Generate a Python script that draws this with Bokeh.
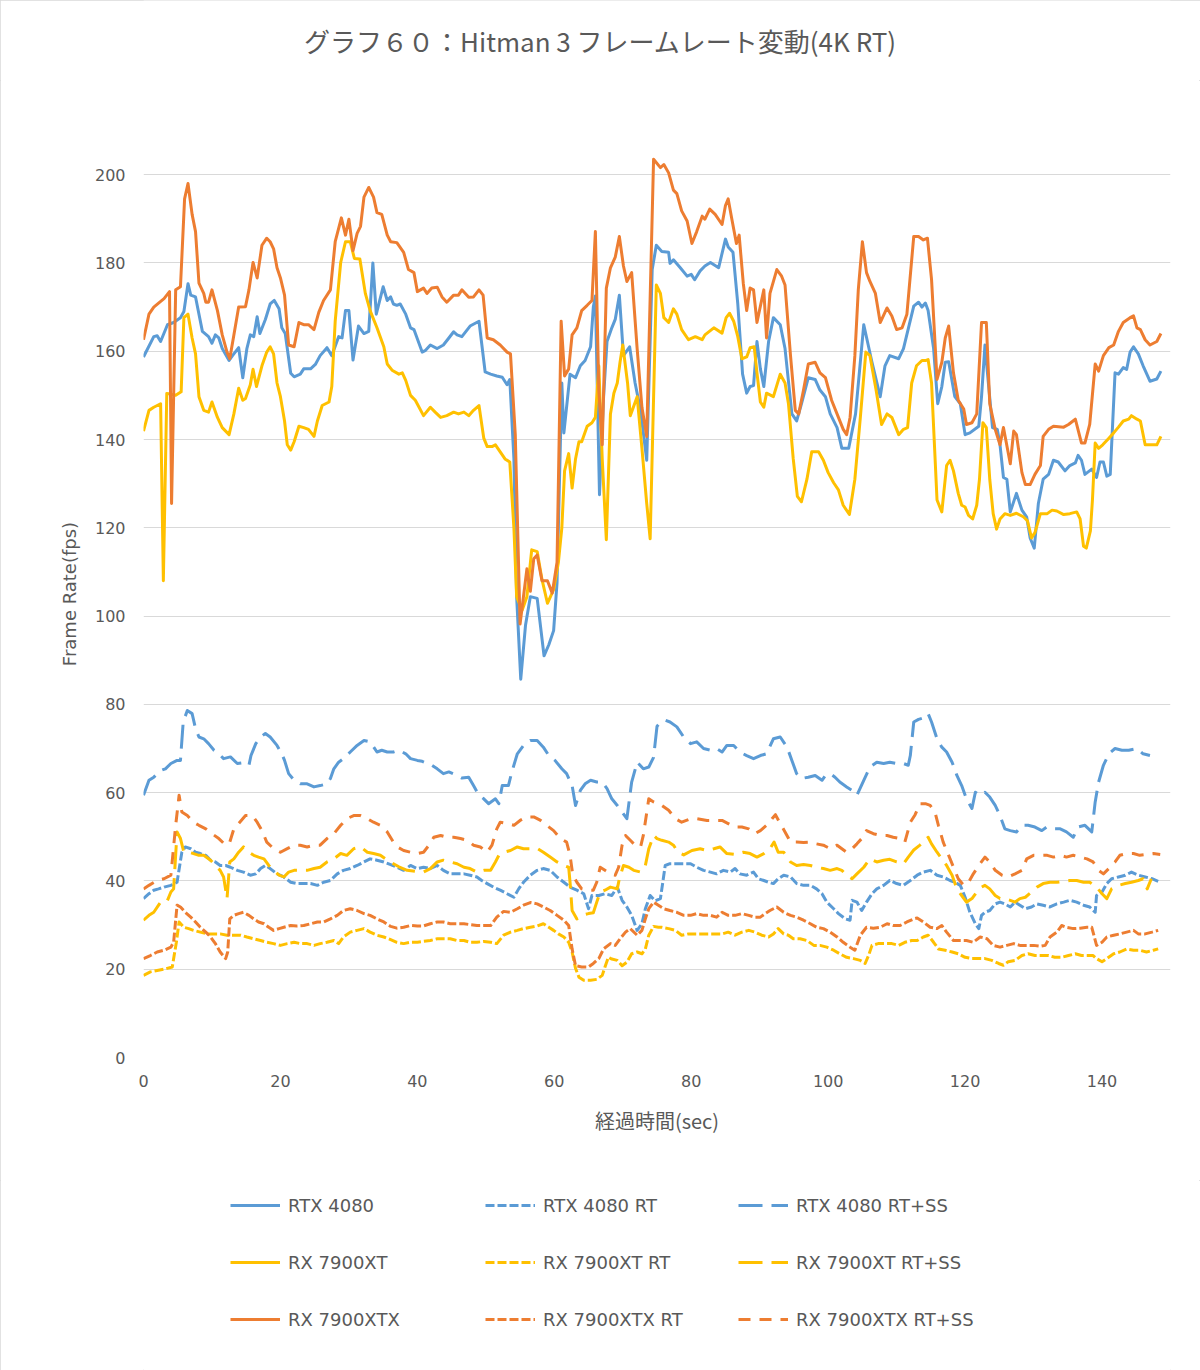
from bokeh.plotting import figure
from bokeh.layouts import column
from bokeh.models import ColumnDataSource, Legend, LegendItem, FixedTicker, Range1d, Label
from bokeh.embed import file_html
from bokeh.resources import INLINE

# ---------------- data (time in sec, frame rate in fps) ----------------
rtx4080 = [(0, 158.7), (1.5, 163.3), (2, 163.5), (2.5, 162.2), (3.5, 166), (4.4, 166.5), (5.4, 167.6), (5.9, 169), (6.5, 175.3), (6.9, 172.7),
           (7.6, 172.3), (8.6, 164.5), (9.5, 163.3), (10, 161.8), (10.5, 163.7), (11, 163), (11.5, 160.6), (12.5, 157.9), (13, 159), (13.9, 160.8),
           (14.5, 154), (15.1, 160.6), (15.6, 163.7), (16.1, 163.3), (16.6, 167.8), (17, 164), (17.8, 167.2), (18.5, 170.7), (19.1, 171.5), (19.8, 169.6),
           (20.2, 165.3), (20.7, 164), (21.5, 155), (22, 154.2), (22.9, 154.8), (23.4, 156), (24.4, 156), (25.1, 157), (25.8, 159), (26.8, 160.8),
           (27.5, 159), (28.5, 163.3), (29, 163), (29.5, 169.2), (30, 169.2), (30.6, 158), (31.4, 165.7), (32.2, 164), (32.9, 164.5), (33.5, 180),
           (34, 168.4), (35, 174.6), (35.6, 171.5), (36.1, 172.3), (36.5, 170.7), (37, 170.4), (37.5, 170.7), (38.3, 168.4), (39, 165.3), (39.5, 164.9),
           (40.7, 159.8), (41.2, 160.2), (41.9, 161.4), (42.9, 160.6), (43.8, 161.4), (44.6, 163), (45.3, 164.4), (45.8, 163.7), (46.5, 163.3), (47.7, 165.7),
           (49, 166.8), (49.9, 155.3), (50.7, 154.8), (51.6, 154.4), (52.4, 154.1), (53.1, 152.4), (53.5, 153.6), (54.1, 135.6), (54.5, 104.4), (55.1, 85.7),
           (55.8, 98), (56.5, 104.4), (57.5, 104), (58.5, 91), (59.2, 93.5), (59.9, 96.7), (60.4, 107.6), (61.1, 152.8), (61.4, 141.5), (62.3, 154.8),
           (63.1, 154), (63.8, 156.7), (64.5, 157.9), (65.3, 161), (65.7, 170), (66, 172.5), (66.6, 127.5), (67.2, 149.7), (67.7, 162.2), (68.4, 165.3),
           (68.9, 167.2), (69.5, 172.7), (70.1, 159), (71, 161), (71.8, 152.8), (72.6, 146.6), (73.5, 135.3), (74.3, 178.5), (74.9, 184), (75.7, 182.6),
           (76.7, 182.4), (76.9, 179.9), (77.4, 180.7), (78.4, 178.9), (79.4, 177), (80, 177.4), (80.5, 176.2), (81.3, 178.2), (82, 179.3), (82.8, 180.1),
           (84, 178.9), (85, 185.4), (85.4, 183.6), (86.1, 182.4), (86.8, 170.7), (87.5, 154.8), (88.1, 150.5), (88.6, 152), (89.1, 152.2), (89.6, 162.2),
           (90.1, 156), (90.6, 152), (91.3, 162.2), (92, 167.6), (93, 166), (93.7, 160.6), (94.7, 145.8), (95.4, 144.2), (96.1, 148.1), (97.1, 154),
           (98.1, 153.6), (98.8, 151.2), (99.6, 149.7), (100.3, 145.8), (101.3, 142.7), (102, 138), (103, 138), (104, 145.8), (105.2, 166), (106.4, 157.5),
           (107.6, 149.7), (108.3, 156.7), (109, 159), (110.3, 158.3), (111, 160.6), (112.5, 170.2), (113.2, 171.1), (113.7, 170), (114.2, 170.9), (114.6, 169.2),
           (115.4, 160.6), (116, 148.1), (116.6, 152), (117.1, 157.5), (117.6, 157.6), (118.5, 149.7), (119.3, 148.1), (120, 141.1), (120.7, 141.5), (122, 143),
           (122.4, 149.7), (122.9, 161.4), (123.4, 152.8), (124, 142.7), (124.7, 142.3), (125.1, 138.8), (125.6, 131.4), (126.1, 131), (126.6, 123.6), (127.5, 127.8),
           (128.3, 124), (129, 122.4), (129.5, 117.7), (130.1, 115.4), (130.7, 125.5), (131.4, 131), (132.2, 132.1), (132.9, 135.3), (133.6, 134.9), (134.6, 132.9),
           (135.3, 134.1), (136.1, 134.7), (136.5, 136.4), (137, 135.3), (137.5, 132.1), (138.5, 133.3), (139.2, 131.4), (139.7, 134.9), (140.2, 134.9), (140.7, 131.7),
           (141.2, 132.1), (141.9, 155.1), (142.4, 154.8), (143.1, 156.3), (143.6, 155.9), (144.1, 159.8), (144.6, 161), (145.3, 159.4), (146, 156.7), (147, 153.2),
           (148, 153.7), (148.6, 155.5)]

rx7900xtx = [(0, 162.6), (0.8, 168.4), (1.5, 170), (2.2, 170.9), (3, 171.9), (3.8, 173.5), (4.1, 125.5), (4.7, 173.9), (5.4, 174.6), (6, 194.5),
             (6.5, 198), (7.1, 191), (7.6, 187.1), (8.1, 175.4), (8.8, 173.1), (9.1, 171.1), (9.5, 171.1), (10, 173.9), (10.8, 169.2), (11.5, 163.7),
             (12.2, 159.8), (12.6, 158.3), (13.2, 163.7), (13.9, 170), (14.9, 170.1), (15.4, 173.9), (16, 180.1), (16.6, 176.6), (17.3, 184), (18, 185.6),
             (18.5, 184.8), (19, 183.2), (19.5, 178.9), (20, 176.6), (20.6, 172.7), (21.2, 161.4), (22, 161), (22.7, 166.5), (23.4, 166), (24.1, 166),
             (24.9, 164.9), (25.6, 168.8), (26.3, 171.5), (27.3, 173.9), (28, 184.8), (28.9, 190.2), (29.5, 186.3), (30, 189.9), (30.6, 182.8), (31.2, 186.7),
             (31.7, 188.3), (32.2, 194.9), (32.9, 197.1), (33.6, 194.9), (34.1, 191.4), (34.8, 191), (35.6, 186.3), (36.1, 184.8), (37, 184.6), (38, 182.4),
             (38.7, 178.5), (39.5, 177.8), (40, 173.5), (40.9, 174.3), (41.4, 173.1), (42.1, 174.3), (42.9, 174.5), (43.6, 172.3), (44.3, 171.1), (45.3, 172.7),
             (46, 172.7), (46.5, 173.9), (47.5, 172.2), (48.2, 172.3), (49, 173.9), (49.6, 172.7), (50.2, 163), (51.1, 162.6), (52.1, 161.4), (53.1, 159.8),
             (53.6, 159.4), (54.3, 141.1), (55, 98.2), (56, 110.7), (56.5, 105.6), (57, 113), (57.5, 113.8), (58.2, 108), (59, 108), (59.7, 105.2),
             (60.4, 112.2), (61, 166.8), (61.5, 154.4), (62.1, 156), (62.6, 163.7), (63.3, 165.3), (64, 169.2), (64.8, 170.4), (65.5, 171.5), (66, 187.1),
             (66.5, 151.2), (67, 138.8), (67.6, 174.3), (68.2, 178.9), (68.9, 181.3), (69.5, 186), (70.1, 179.3), (70.6, 175.8), (71.3, 177.8), (72.1, 160.6),
             (72.8, 147.3), (73.5, 140.7), (74.5, 203.5), (75.5, 201.6), (76, 202.3), (76.7, 200.4), (77.4, 196.5), (77.9, 195.7), (78.6, 191.8), (79.4, 189.5),
             (80.1, 184.4), (80.8, 187.1), (81.6, 190.6), (82, 189.9), (82.7, 192.2), (83.5, 191), (84.5, 188.7), (85, 193), (85.4, 194.5), (85.9, 190.2),
             (86.6, 184.4), (87, 186.3), (87.6, 175.4), (88.1, 169.2), (88.6, 174.3), (89.1, 173.9), (89.6, 166.5), (90.6, 173.9), (91, 163), (91.5, 173.1),
             (92.5, 178.5), (93.2, 177), (93.7, 175), (94.5, 159), (95.2, 146.6), (95.7, 145.8), (96.4, 151.2), (97.1, 157.1), (98.1, 157.5), (98.8, 155.1),
             (99.6, 154), (100.5, 148.9), (101.5, 145), (102.2, 142.3), (102.7, 141.1), (103.2, 145), (103.9, 159), (104.4, 173.9), (105, 184.8), (105.6, 177.8),
             (106.1, 175.8), (106.9, 173.1), (107.6, 166.5), (108.6, 169.8), (109.3, 168), (110, 164.9), (110.8, 165.3), (111.5, 168.4), (112.5, 186), (113.2, 186),
             (113.9, 185.2), (114.5, 185.6), (115.1, 176.2), (115.9, 153.6), (116.6, 157.5), (117.1, 163), (117.6, 165.7), (118.3, 155.1), (119, 148.9), (119.8, 146.9),
             (120.2, 143.4), (121, 143.8), (121.7, 145.8), (122.4, 166.5), (123.1, 166.5), (123.6, 148.1), (124.4, 142.3), (125.1, 138.8), (125.6, 142.7), (126.6, 134.5),
             (127.1, 141.9), (127.5, 141.1), (128.3, 132.5), (128.8, 129.8), (129.5, 129.8), (130.2, 132.1), (131, 134.1), (131.4, 140.7), (132.2, 142.3), (132.9, 143),
             (134.4, 142.8), (135.1, 143.4), (136.1, 144.6), (137, 139.2), (137.5, 139.2), (138.2, 143.4), (139, 157.1), (139.5, 155.5), (140.2, 159), (141, 160.8),
             (141.7, 161.4), (142.4, 164.5), (143.1, 166.5), (144.1, 167.6), (144.6, 168), (145.1, 165.3), (145.6, 164.9), (146.3, 162.6), (147, 161.4), (148, 162.2),
             (148.6, 164)]

rx7900xt = [(0, 141.9), (0.8, 146.6), (1.5, 147.3), (2.5, 148.1), (2.9, 108), (3.4, 150.4), (3.9, 150.3), (4.7, 150), (5.5, 150.8), (5.9, 167.6),
            (6.5, 168.4), (7.1, 163), (7.6, 159.4), (8.1, 149.7), (8.8, 146.6), (9.5, 146.2), (10, 148.5), (10.8, 145), (11.5, 142.7), (12.5, 141.1),
            (13.2, 145.8), (13.9, 151.6), (14.5, 148.9), (14.9, 149.3), (15.6, 152.4), (16, 155.9), (16.5, 152), (17.3, 156.7), (18, 159.8), (18.5, 161),
            (19, 159.4), (19.5, 152.8), (20, 149.7), (20.6, 144.2), (21, 138.8), (21.5, 137.6), (22, 139.5), (22.7, 143), (23.4, 142.7), (24.1, 142.3),
            (24.9, 140.7), (25.4, 144.2), (26.1, 147.7), (27.1, 148.5), (27.5, 152), (28, 166.8), (28.8, 180.1), (29.5, 184.8), (30.2, 184.8), (30.8, 181),
            (31.6, 180.9), (32.4, 173.1), (33.1, 169.2), (34.1, 165.3), (35.1, 161), (35.6, 157.1), (36.3, 155.7), (37.3, 154.8), (37.8, 155.1), (38.3, 153.4),
            (39, 150), (39.7, 148.9), (40.9, 145.4), (41.9, 147.3), (42.6, 146.2), (43.4, 145), (44.3, 145.4), (45.3, 146.2), (46, 145.8), (46.8, 146.2),
            (47.5, 145.4), (48.2, 146.6), (49, 147.7), (49.7, 140.3), (50.2, 138.4), (50.9, 138.4), (51.4, 138.8), (52.1, 137.2), (52.8, 135.6), (53.5, 134.9),
            (54.1, 120), (54.5, 104.4), (55.3, 101.3), (56, 104.4), (56.7, 115), (57.5, 114.6), (58.2, 108.3), (59, 102.9), (59.9, 106), (60.6, 112.2),
            (61.1, 120), (61.5, 132.9), (62.1, 136.8), (62.6, 129), (63.1, 135.6), (63.6, 139.5), (64, 139.5), (64.8, 143), (65.5, 143.8), (66, 145),
            (66.5, 156.7), (67, 135.6), (67.6, 117.3), (68.2, 145.8), (68.7, 150.5), (69.2, 152.8), (69.6, 157.5), (70, 161.4), (70.7, 152.8), (71.1, 145.4),
            (72.1, 149.7), (72.8, 138), (73.5, 125.5), (74, 117.5), (74.9, 175), (75.5, 173.1), (76, 167.6), (76.7, 166.5), (77.4, 169.6), (77.9, 168.4),
            (78.6, 164.9), (79.6, 162.6), (80.6, 163.3), (81.6, 162.6), (82, 163.7), (83.3, 165.3), (84.5, 164.1), (85.1, 167.6), (85.6, 168.6), (86.2, 166.8),
            (86.8, 163.3), (87.4, 158.3), (88.1, 158.7), (88.6, 160.8), (89.2, 161), (89.6, 155.1), (90.1, 148.5), (90.6, 147.3), (91, 150.5), (92, 149.7),
            (93, 154.8), (93.7, 152.8), (94.2, 148.1), (94.9, 135.6), (95.5, 127.1), (96.1, 125.9), (96.9, 131), (97.6, 137.2), (98.6, 137.2), (99.3, 135.3),
            (100, 132.5), (100.8, 130.2), (101.5, 128.6), (102.2, 125.1), (103.1, 123), (103.9, 131), (104.7, 145), (105.5, 159.8), (106.1, 159), (107, 151.2),
            (107.8, 143.4), (108.6, 145.8), (109.3, 145), (110.3, 141.1), (111, 142.3), (111.6, 142.7), (112.2, 152.8), (112.9, 156.7), (113.7, 157.9), (114.3, 157.9),
            (114.6, 158.1), (115.1, 152.8), (115.9, 126.3), (116.6, 123.6), (117.3, 134.1), (117.8, 135.3), (118.3, 132.9), (119, 127.8), (119.5, 125.1), (120, 124.7),
            (120.5, 122.8), (121.1, 122), (121.7, 125.1), (122.1, 131), (122.6, 143.8), (123.1, 142.7), (123.6, 131), (124.1, 123.2), (124.6, 119.7), (125.1, 122),
            (125.8, 123.2), (126.6, 122.8), (127.5, 123.3), (128.5, 122.5), (129.1, 121.6), (129.7, 117.7), (130.2, 118.9), (131, 123.2), (132, 123.2), (132.7, 124),
            (133.4, 123.8), (134.4, 123), (135.3, 123.2), (136.3, 123.6), (136.8, 122), (137.3, 115.8), (137.7, 115.4), (138.3, 119.3), (138.6, 126.3), (139, 139.2),
            (139.5, 138), (140.1, 138.8), (141, 140.3), (141.7, 141.5), (142.4, 142.8), (143.1, 144.2), (143.9, 144.6), (144.3, 145.4), (145.1, 144.6), (145.6, 144.2),
            (146.3, 138.8), (148, 138.8), (148.6, 140.7)]

rtx4080_rt_ss = [(0, 59.4), (0.8, 62.8), (1.5, 63.5), (2.5, 65), (3.2, 65.4), (4, 66.6), (4.9, 67.3), (5.4, 67.3), (5.8, 76), (6.4, 78.6),
                 (7.1, 77.9), (7.6, 74.5), (8.1, 72.6), (8.8, 72.2), (9.5, 71.1), (10.3, 69.6), (11, 68.8), (11.7, 67.7), (12.7, 68.1), (13.7, 66.6),
                 (14.6, 66.8), (15.4, 66.2), (15.7, 68.4), (16.4, 71.1), (17.1, 72.6), (17.8, 73.4), (18.5, 72.6), (19.5, 70.7), (20.2, 68.8), (20.6, 67.3),
                 (21.2, 64.3), (22, 62.8), (22.9, 62), (23.9, 62), (24.9, 61.3), (25.8, 61.6), (26.8, 62), (27.3, 63.2), (27.8, 65.4), (28.5, 66.9),
                 (29.2, 67.7), (30.2, 69.2), (31.2, 70.7), (32.2, 71.8), (33.1, 71.5), (34.1, 69.2), (34.8, 69.6), (35.6, 69.2), (36.5, 69.2), (37.3, 69.6),
                 (38.3, 68.8), (39, 67.7), (40, 67.3), (40.7, 67.1), (42.1, 66.2), (42.9, 65.4), (43.8, 64.3), (44.6, 64.7), (45.8, 63.9), (46.5, 63.3),
                 (47.5, 63.5), (48.2, 61.6), (49, 59.4), (49.7, 58.6), (50.4, 57.5), (51.4, 58.6), (51.9, 57.5), (52.4, 61.6), (53.3, 61.6), (53.8, 64.7),
                 (54.6, 68.8), (55.5, 70.7), (56.5, 71.8), (57.5, 71.8), (58.4, 70.3), (59.2, 68.4), (60.1, 67.3), (61.1, 65.4), (61.8, 64.3), (62.6, 61.6),
                 (63.1, 57.1), (63.8, 60.5), (64.5, 62), (65.3, 62.8), (66.2, 62.4), (67, 62.4), (67.7, 60.9), (68.4, 58.6), (69.2, 57.1), (69.9, 55.6),
                 (70.6, 54.1), (71.3, 62.4), (72.1, 66.9), (73, 65.4), (73.8, 65.8), (74.5, 68), (75, 75), (75.5, 76), (76.2, 76.4), (76.9, 76),
                 (77.9, 74.9), (78.9, 72.6), (79.9, 71.1), (80.8, 71.5), (81.8, 70), (82.8, 69.6), (83.7, 70), (84.5, 69.2), (85.2, 70.7), (86.2, 70.7),
                 (87.1, 69.2), (88.1, 68.4), (89.1, 67.7), (90.1, 68.4), (91, 68.8), (92, 72.2), (93, 72.6), (94, 70.3), (94.7, 67.3), (95.4, 64.3),
                 (96.1, 63.2), (97.1, 63.5), (98.1, 63.9), (99.1, 62.8), (99.6, 63.9), (100.3, 64.3), (101, 63.5), (101.7, 62.4), (102.7, 61.3), (103.5, 60.5),
                 (104.2, 59.4), (105.2, 62.8), (106.1, 65.8), (107.1, 66.9), (108.1, 66.6), (109, 66.9), (110, 66.6), (111, 66.6), (111.7, 66.2), (112, 68.4),
                 (112.5, 76), (113.2, 76.6), (114.2, 77.1), (114.6, 77.9), (115.1, 76), (115.9, 72.2), (116.6, 70.3), (117.3, 69.2), (118.1, 66.9), (118.8, 63.9),
                 (119.5, 61.6), (120.2, 58.6), (121, 56.4), (121.5, 60.1), (122.2, 59.4), (122.9, 60.1), (123.6, 59), (124.4, 57.1), (125.1, 54.8), (125.8, 51.8),
                 (126.6, 51.4), (127.5, 51.1), (128.3, 52.6), (129.2, 52.6), (130.2, 52.2), (131.2, 51.4), (131.9, 52.2), (132.9, 51.8), (133.9, 51.8), (134.8, 51.1),
                 (135.8, 49.9), (136.5, 52.2), (137.5, 52.6), (138.5, 51.1), (139, 57.9), (139.5, 62.4), (140.2, 66.2), (141, 68.8), (141.9, 70), (142.9, 69.6),
                 (143.9, 69.6), (145.1, 70), (146, 68.8), (147, 68.4)]

rx7900xtx_rt_ss = [(0, 38.2), (0.8, 39), (2, 40.1), (3, 40.5), (4, 41.3), (4.7, 52.6), (5.2, 59.4), (5.6, 55.6), (6.4, 54.8), (7.3, 53.3),
                   (8.1, 52.6), (9.1, 51.8), (10, 50.7), (11, 49.6), (12, 48.1), (12.6, 48.8), (13.2, 51.8), (13.9, 53), (14.9, 54.8), (15.9, 54.8),
                   (16.6, 53.3), (17.3, 51.4), (18, 48.8), (19, 47.3), (20, 46.5), (21, 47.3), (22, 48.1), (22.9, 48.1), (23.9, 47.7), (24.9, 48.1),
                   (25.8, 48.1), (26.8, 49.6), (27.8, 50.7), (28.8, 52.6), (29.7, 54.1), (30.7, 54.8), (31.7, 54.8), (32.7, 54.1), (33.6, 53.3), (34.6, 52.6),
                   (35.6, 51.1), (36.5, 48.8), (37.3, 47.5), (38, 46.9), (39, 46.5), (40, 46.2), (40.9, 46.5), (41.7, 48.1), (42.4, 49.9), (43.4, 50.3),
                   (44.3, 49.9), (45.3, 49.9), (46.3, 49.6), (47.3, 49.2), (48.2, 48.1), (49.2, 47.7), (50.2, 46.5), (50.9, 48.1), (51.6, 51.8), (52.1, 53.3),
                   (53.1, 53), (54.1, 52.6), (55, 53.7), (56, 54.5), (57, 54.5), (58, 53.7), (58.9, 52.6), (59.9, 51.4), (60.9, 49.6), (61.8, 48.8),
                   (62.3, 45.8), (62.7, 41.3), (63.3, 39.7), (64, 38.2), (65, 37.9), (65.7, 37.9), (66.2, 39.7), (66.7, 43.1), (67.4, 42.4), (68.2, 41.6),
                   (68.9, 41.3), (69.4, 43.1), (69.9, 48.1), (70.4, 50.3), (71.1, 49.2), (71.8, 48.1), (72.6, 47.7), (73, 50.3), (73.8, 58.6), (74.5, 57.9),
                   (75.2, 57.5), (75.7, 57.1), (76.7, 56), (77.7, 54.1), (78.6, 53.3), (79.6, 53.9), (80.8, 54.1), (82.3, 53.7), (83.5, 53.7), (84.5, 53.7),
                   (85.4, 53), (86.4, 52.2), (87.4, 52.2), (88.4, 51.8), (89.3, 50.7), (90.1, 51.4), (91, 52.6), (91.8, 54.1), (92.3, 55), (93, 53),
                   (93.7, 51.1), (94.5, 48.8), (95.4, 48.8), (96.4, 48.7), (97.4, 48.8), (98.3, 48.4), (99.3, 48.1), (100.3, 47.3), (101.3, 48.1), (102, 47.3),
                   (102.7, 46.5), (103.5, 47.3), (104.2, 48.4), (104.9, 49.6), (105.6, 51.4), (106.6, 50.7), (107.6, 50.3), (108.6, 50.3), (109.5, 49.9), (110.5, 49.6),
                   (111.2, 48.8), (112, 53.3), (112.7, 55), (113.4, 57.5), (114.2, 57.5), (114.9, 57.1), (115.6, 55.6), (116.1, 52.6), (116.8, 48.8), (117.6, 45.8),
                   (118.3, 43.1), (119, 40.5), (119.8, 39), (120.5, 39.7), (121.2, 41.6), (122, 43.5), (122.9, 45.4), (123.6, 44.3), (124.4, 42.4), (125.4, 41.3),
                   (126.3, 40.9), (127.3, 41.6), (128.3, 42.4), (129, 45), (130, 45.8), (131, 45.8), (132, 45.8), (132.9, 45.4), (133.9, 45.8), (134.8, 45.4),
                   (135.8, 45.8), (136.8, 45.4), (137.8, 45), (138.7, 44.3), (139.5, 42.4), (140.2, 41.6), (141, 42.8), (141.9, 44.3), (142.6, 45.8), (143.6, 46.2),
                   (144.6, 46.2), (145.5, 45.8), (146.5, 46), (147.5, 46.2), (148.5, 46)]

rx7900xt_rt_ss = [(0, 31.1), (0.8, 32.2), (1.5, 32.9), (2.2, 34.5), (2.7, 35.6), (3.5, 35.6), (4, 37.5), (4.4, 38.2), (4.9, 51.1), (5.4, 49.6),
                  (5.9, 46.5), (6.6, 46.5), (7.3, 46.2), (8.1, 45.8), (8.8, 45.8), (9.8, 44.7), (10.5, 43.5), (11.2, 42.4), (11.7, 40.9), (12.2, 36),
                  (12.6, 44.3), (13.2, 45), (13.9, 46.5), (14.6, 47.7), (15.4, 46.5), (16.1, 45.8), (16.8, 45.4), (17.6, 45), (18.3, 43.5), (19, 42.4),
                  (19.8, 41.3), (20.5, 40.9), (21.2, 42), (22, 42.4), (22.9, 42.4), (23.9, 42.4), (24.9, 42.8), (25.8, 43.1), (26.8, 44.3), (27.8, 45),
                  (28.8, 46.2), (29.7, 45.8), (30.7, 47.3), (31.7, 47.7), (32.7, 46.5), (33.6, 46.2), (34.6, 45.8), (35.6, 44.7), (36.5, 43.9), (37.3, 43.2),
                  (38.5, 42.4), (39.7, 42.2), (40.9, 42), (41.9, 42.8), (42.9, 44.3), (43.8, 44.7), (44.8, 44.3), (45.8, 43.9), (46.8, 43.1), (47.7, 42.8),
                  (48.7, 42), (49.7, 42.4), (50.7, 42.4), (51.4, 44.3), (51.9, 45.8), (52.6, 46.5), (53.6, 46.9), (54.6, 47.7), (55.5, 47.3), (56.5, 47.3),
                  (57.5, 47.4), (58.4, 46.5), (59.4, 45.4), (60.4, 44.3), (61.4, 43.5), (62.1, 43.1), (62.3, 39.7), (62.6, 33.3), (63.3, 31.4), (64, 32.2),
                  (65, 32.6), (65.7, 32.8), (66.2, 35.2), (66.7, 37.5), (67.4, 37.9), (68.2, 38.6), (69.2, 38.2), (69.5, 40.5), (70.1, 43.5), (70.9, 43.1),
                  (71.6, 42.4), (72.6, 42), (73.3, 43.5), (73.8, 47.3), (74.5, 50.3), (75, 49.6), (75.7, 49.2), (76.7, 48.8), (77.4, 48.1), (78.1, 46.5),
                  (78.9, 45.9), (80.1, 46.9), (81.3, 47.3), (82.3, 46.9), (83.3, 47.3), (84.2, 47.7), (85.2, 46.2), (86.4, 46), (87.6, 46.5), (88.6, 46.2),
                  (89.6, 45.4), (90.6, 46.2), (91.5, 47.3), (92.1, 48.8), (92.7, 46.5), (93.5, 46.5), (94.5, 44.3), (95.4, 43.5), (96.4, 43.7), (97.4, 43.5),
                  (98.3, 43.1), (99.3, 42.8), (100.3, 42.4), (101.3, 42.8), (102, 42.4), (102.7, 41.3), (103.5, 40.5), (104.2, 41.6), (105.2, 43.1), (106.1, 45),
                  (107.1, 44.3), (108.1, 44.7), (109, 44.9), (110, 44.3), (111, 43.9), (111.7, 45.4), (112.5, 47), (113.4, 48.1), (114.2, 49.2), (114.6, 49.9),
                  (115.1, 48.4), (115.9, 46.5), (116.6, 45), (117.3, 43.5), (118.1, 41.3), (118.8, 38.2), (119.5, 36.7), (120.2, 35.2), (121, 36), (121.7, 37.5),
                  (122.4, 38.6), (122.9, 39), (123.6, 38.2), (124.4, 36.7), (125.1, 36), (125.8, 36), (126.6, 35.6), (127.3, 35.2), (128, 36), (128.8, 36.3),
                  (129.7, 37.5), (130.5, 38.6), (131.4, 39.4), (132.4, 39.7), (133.4, 39.7), (134.4, 39.9), (135.3, 40.1), (136.3, 40.1), (137.3, 39.7), (138.2, 39.7),
                  (139.2, 38.6), (140, 37.1), (140.7, 36), (141.4, 38.2), (142.4, 39), (143.4, 39.4), (144.3, 39.7), (145.3, 40.1), (146, 40.5), (146.6, 38.2),
                  (147.2, 40.5)]

rtx4080_rt = [(0, 36), (0.8, 37.1), (1.5, 37.9), (2.2, 38.2), (3, 38.6), (4, 39), (4.9, 39.7), (5.6, 46.5), (6.1, 47.7), (6.9, 47.3),
              (7.6, 46.5), (8.3, 46.2), (9.1, 45.8), (9.8, 44.7), (10.5, 44.3), (11.2, 43.5), (12, 43.5), (12.7, 43.1), (13.7, 42.4), (14.6, 42),
              (15.6, 41.3), (16.4, 41.6), (17.1, 42.8), (17.8, 43.5), (18.5, 42.8), (19.5, 41.6), (20.5, 40.9), (21.5, 39.7), (22.4, 39.4), (23.4, 39.4),
              (24.4, 39.4), (25.4, 39), (26.3, 39.7), (27.3, 40.1), (28.3, 41.6), (29.2, 42.4), (30.2, 42.8), (31.2, 43.5), (32.2, 44.3), (33.1, 45),
              (34.1, 44.7), (35.1, 44.3), (36.1, 43.7), (37, 43.1), (38, 42.4), (39, 43.5), (40, 42.8), (40.9, 43.1), (41.9, 42.8), (42.9, 43.5),
              (43.8, 42.4), (44.8, 41.6), (45.8, 41.6), (46.8, 41.6), (47.7, 41.3), (48.7, 40.9), (49.4, 40.1), (50.2, 39.4), (51.1, 38.6), (52.1, 37.9),
              (53.1, 37.1), (54.1, 36.3), (54.8, 38.2), (55.5, 39.7), (56.5, 41.3), (57.5, 42.4), (58.4, 42.8), (59.4, 42.4), (60.4, 40.9), (61.4, 39.7),
              (62.3, 38.6), (63.3, 37.9), (64.3, 37.1), (65, 33.7), (65.5, 36.7), (66.5, 36.7), (67.4, 37.1), (68.4, 36.7), (69.2, 38.6), (69.9, 35.6),
              (70.6, 34.1), (71.3, 32.2), (72.1, 28.8), (72.8, 30.3), (73.3, 33.7), (74, 36.7), (74.7, 35.5), (75.5, 36), (76.2, 43.5), (76.9, 43.9),
              (77.9, 43.9), (78.9, 43.9), (79.9, 43.9), (80.8, 43.1), (81.8, 42.4), (82.8, 42), (83.7, 41.6), (84.7, 42.4), (85.7, 42), (86.4, 42.8),
              (87.1, 41.6), (88.1, 41.3), (89.1, 42), (89.8, 40.5), (90.6, 40.1), (91.3, 39.7), (92, 39.4), (92.7, 40.5), (93.5, 41.3), (94.5, 40.9),
              (95.4, 39.4), (96.4, 39), (97.4, 39), (98.3, 38.2), (99.1, 37.1), (99.8, 35.2), (100.8, 33.7), (101.5, 32.6), (102.5, 31.4), (103.2, 31.1),
              (103.5, 35.6), (104.2, 35.2), (104.9, 33.3), (105.6, 35.2), (106.4, 37.1), (107.1, 38.2), (108.1, 39), (109, 40.1), (110, 39.4), (111, 39),
              (112, 40.1), (113, 41.3), (113.9, 42), (114.9, 42.4), (115.9, 41.3), (116.8, 40.9), (117.8, 40.1), (118.5, 39.7), (119.3, 39), (120, 36.3),
              (120.7, 32.9), (121.5, 30.3), (122, 29.2), (122.4, 32.2), (122.9, 32.9), (123.6, 33.3), (124.4, 34.8), (125.1, 35.2), (125.8, 34.8), (126.6, 34.1),
              (127.3, 35.2), (128, 34.5), (128.8, 33.7), (129.7, 34.1), (130.5, 34.8), (131.4, 34.5), (132.4, 34.1), (133.4, 34.8), (134.4, 35.2), (135.3, 35.6),
              (136.3, 35.2), (137.3, 34.5), (138.2, 34.1), (139, 32.9), (139.2, 36.7), (140, 37.5), (140.7, 39.4), (141.4, 40.5), (142.4, 40.9), (143.4, 41.3),
              (144.3, 42), (145.3, 41.3), (146.3, 40.9), (147.3, 40.5), (148.2, 39.9)]

rx7900xtx_rt = [(0, 22.4), (1, 23.1), (2, 23.9), (3, 24.3), (4, 25), (4.4, 26.1), (4.9, 34.5), (5.4, 34.1), (6.1, 32.9), (6.9, 31.8),
                (7.6, 30.7), (8.3, 29.5), (9.1, 28.4), (9.8, 27.3), (10.5, 25.8), (11.2, 23.9), (12, 22.4), (12.3, 23.9), (12.6, 31.4), (13.2, 32.2),
                (13.9, 32.6), (14.6, 32.9), (15.4, 32.2), (16.1, 31.4), (16.8, 30.7), (17.6, 30.3), (18.3, 29.5), (19, 28.8), (19.8, 29.2), (20.5, 29.5),
                (21.5, 29.9), (22.4, 29.8), (23.4, 29.9), (24.4, 30.3), (25.4, 30.7), (26.3, 30.7), (27.3, 31.4), (28.3, 32.2), (29.2, 33.3), (30.2, 33.7),
                (31.2, 33.3), (32.2, 32.6), (33.1, 32.2), (34.1, 31.4), (35.1, 30.7), (36.1, 29.7), (37, 29.3), (38, 29.5), (39, 29.9), (40, 29.8),
                (40.9, 29.8), (41.9, 30.3), (42.9, 30.7), (43.8, 30.7), (44.8, 30.3), (45.8, 30.3), (46.8, 30.3), (47.7, 30.1), (48.7, 29.9), (49.7, 29.9),
                (50.7, 29.9), (51.6, 31.8), (52.6, 33.1), (53.6, 32.9), (54.6, 33.7), (55.5, 34.5), (56.5, 35.1), (57.5, 34.8), (58.4, 34.1), (59.4, 33.3),
                (60.4, 32.2), (61.4, 31.1), (62.1, 29.9), (62.6, 24.6), (63.1, 20.8), (64, 20.5), (65, 20.5), (65.7, 21.3), (66.5, 22.4), (67.2, 24.6),
                (68.2, 25.8), (68.9, 25.4), (69.6, 26.9), (70.4, 28.4), (71.1, 29.2), (72.1, 27.7), (72.8, 28.8), (73.3, 31.4), (73.8, 33.7), (74.5, 35.2),
                (75.2, 34.5), (76, 33.7), (76.9, 33.3), (77.9, 32.9), (78.9, 32.2), (79.9, 32.2), (80.8, 32.6), (81.8, 32.2), (82.8, 32.2), (83.7, 31.8),
                (84.5, 32.9), (85.4, 32.2), (86.4, 32.2), (87.4, 32.6), (88.4, 32.2), (89.3, 31.8), (90.1, 31.8), (90.8, 32.6), (91.5, 33.3), (92.5, 34.1),
                (93.5, 32.9), (94.5, 32.2), (95.4, 31.8), (96.4, 31.1), (97.4, 30.3), (98.3, 29.5), (99.3, 29.2), (100.3, 28.4), (101.3, 27.3), (102.2, 26.1),
                (103.2, 25), (103.9, 24.3), (104.7, 27.7), (105.6, 29.5), (106.6, 29.3), (107.6, 29.5), (108.6, 30.3), (109.5, 29.9), (110.5, 29.9), (111.5, 30.7),
                (112.5, 31.4), (113, 31.6), (113.9, 30.7), (114.9, 29.5), (115.9, 29.2), (116.6, 29.9), (117.3, 28.4), (118.3, 26.5), (119.3, 26.5), (120.2, 26.5),
                (121.2, 26.1), (122.2, 27.3), (123.2, 26.9), (124.1, 25.4), (125.1, 25), (126.1, 25.4), (127.1, 25.8), (128, 25.4), (129, 25.4), (130, 25.4),
                (131, 25.2), (131.7, 25.4), (132.4, 27.3), (133.4, 28.4), (134.1, 29.9), (134.8, 29.5), (135.8, 29.2), (136.8, 29.3), (137.8, 29.5), (138.5, 29.5),
                (139.2, 25.4), (140, 26.1), (140.7, 27.3), (141.7, 27.7), (142.6, 28), (143.6, 28.4), (144.6, 28.8), (145.3, 28), (146.3, 28), (147.3, 28.4),
                (148.2, 28.8)]

rx7900xt_rt = [(0, 18.6), (1, 19.4), (2, 19.7), (3, 20), (4.2, 20.5), (4.8, 26.1), (5.2, 30.7), (5.9, 29.5), (6.6, 29.2), (7.3, 28.8),
               (8.3, 28.4), (9.3, 28), (10.3, 28), (11.2, 28), (12.2, 27.7), (13.2, 27.7), (14.2, 27.7), (15.1, 27.3), (16.1, 26.9), (17.1, 26.5),
               (18, 26.1), (19, 25.8), (20, 25.4), (21, 25.8), (22, 26.1), (22.9, 25.8), (23.9, 25.8), (24.9, 25.4), (25.8, 25.8), (26.8, 26.1),
               (27.8, 26.5), (28.5, 25.8), (29.2, 27.3), (30.2, 28.4), (31.2, 28.8), (32.2, 29.2), (33.1, 28.4), (34.1, 27.7), (35.1, 27.3), (36.1, 26.7),
               (37, 26.1), (38, 25.8), (39, 26.1), (40, 26.1), (40.9, 26.3), (41.9, 26.5), (42.9, 26.9), (43.8, 26.9), (44.8, 26.9), (45.8, 26.5),
               (46.8, 26.5), (47.7, 26.1), (48.7, 26.1), (49.7, 26.3), (50.7, 26.1), (51.6, 25.8), (52.6, 27.7), (53.6, 28.4), (54.6, 28.8), (55.5, 29.2),
               (56.5, 29.5), (57.5, 29.8), (58.4, 30.3), (59.2, 29.5), (59.9, 28.8), (60.6, 28), (61.4, 27.3), (62.1, 26.1), (62.6, 23.9), (63.1, 20.2),
               (63.6, 18.2), (64.3, 17.5), (65.3, 17.5), (66.2, 17.7), (67, 18.6), (67.4, 20.5), (67.9, 22.7), (68.4, 22.3), (69.2, 22), (69.9, 20.8),
               (70.6, 21.6), (71.3, 23.5), (72.1, 23.9), (72.8, 23.5), (73.3, 24.6), (73.8, 27.7), (74.5, 29.7), (75.2, 29.5), (75.7, 29.5), (76.7, 29.2),
               (77.7, 28.8), (78.6, 27.7), (79.6, 28), (80.6, 28), (81.6, 28), (82.5, 28), (83.5, 28), (84.5, 28), (85.4, 28.4), (86.4, 27.7),
               (87.4, 28.4), (88.4, 28.8), (89.3, 28.4), (90.3, 27.7), (91.3, 27.3), (92, 28), (92.7, 29.2), (93.5, 28), (94.2, 27.7), (94.9, 26.9),
               (95.9, 26.9), (96.9, 26.5), (97.9, 25.4), (98.8, 25.4), (99.8, 25), (100.8, 24.3), (101.7, 23.5), (102.7, 22.7), (103.7, 22.4), (104.7, 22),
               (105.4, 21.3), (105.9, 23.1), (106.4, 25.4), (107.3, 25.8), (108.3, 25.8), (109.3, 25.8), (110.3, 25.4), (111.2, 26.1), (112.2, 26.5), (113, 26.5),
               (113.9, 27.3), (114.6, 27.7), (115.4, 26.1), (116.1, 24.6), (117.1, 24.3), (118.1, 23.9), (119, 23.5), (120, 22.7), (121, 22.4), (122, 22.4),
               (122.9, 22.4), (123.9, 22), (124.9, 21.3), (125.6, 20.9), (126.3, 21.7), (127.3, 22), (128.3, 23.1), (129.2, 23.5), (130.2, 23.1), (131.2, 23.1),
               (132.2, 23.1), (133.1, 22.7), (134.1, 22.7), (135.1, 23.1), (136.1, 23.5), (137, 23.1), (138, 23.1), (138.7, 23.1), (139.2, 22.4), (140, 21.7),
               (140.7, 22.4), (141.7, 23.5), (142.6, 23.9), (143.6, 24.6), (144.6, 24.3), (145.5, 24.3), (146.5, 23.9), (147.5, 24.3), (148.2, 24.6)]

series_names = ["RTX 4080", "RTX 4080 RT", "RTX 4080 RT+SS",
                "RX 7900XT", "RX 7900XT RT", "RX 7900XT RT+SS",
                "RX 7900XTX", "RX 7900XTX RT", "RX 7900XTX RT+SS"]
series_data = [rtx4080, rtx4080_rt, rtx4080_rt_ss,
               rx7900xt, rx7900xt_rt, rx7900xt_rt_ss,
               rx7900xtx, rx7900xtx_rt, rx7900xtx_rt_ss]
x_ticks = [0, 20, 40, 60, 80, 100, 120, 140]
y_ticks = [0, 20, 40, 60, 80, 100, 120, 140, 160, 180, 200]
title_text = "グラフ６０：Hitman 3 フレームレート変動(4K RT)"

# ---------------- styles ----------------
BLUE, YELLOW, ORANGE = "#5B9BD5", "#FFC000", "#ED7D31"
colors = [BLUE, BLUE, BLUE, YELLOW, YELLOW, YELLOW, ORANGE, ORANGE, ORANGE]
dashes = ["solid", "9 3", "24 9", "solid", "9 3", "24 9", "solid", "9 3", "12 9"]
TXT = "#595959"
FRAME_LEFT = 143  # frames of stacked figures are aligned with the main plot frame


def blank_figure(h):
    f = figure(width=1200, height=h, output_backend="svg", toolbar_location=None,
               x_axis_location=None, y_axis_location=None, title=None,
               min_border=0, x_range=Range1d(1000, 1001), y_range=Range1d(1000, 1001))
    f.outline_line_color = None
    f.background_fill_color = "white"
    f.border_fill_color = "white"
    f.grid.visible = False
    return f


sources = [ColumnDataSource(dict(t=[a for a, b in d], fps=[b for a, b in d])) for d in series_data]

# ---------------- title strip ----------------
p_title = blank_figure(80)
p_title.add_layout(Label(x=600 - FRAME_LEFT, y=40, x_units="screen", y_units="screen", text=title_text,
                         text_font="Noto Sans CJK JP", text_font_size="26px", text_color=TXT,
                         text_align="center", text_baseline="middle"))

# ---------------- main chart ----------------
p = figure(width=1200, height=1100, output_backend="svg", toolbar_location=None,
           x_range=Range1d(0, 150), y_range=Range1d(0, 210), title=None,
           min_border_left=FRAME_LEFT, min_border_right=30, min_border_top=50, min_border_bottom=123)
p.background_fill_color = "white"
p.border_fill_color = "white"
p.outline_line_color = None

for src, col, dash in zip(sources, colors, dashes):
    p.line("t", "fps", source=src, line_color=col, line_width=3, line_dash=dash,
           line_join="round", line_cap="butt")

p.xaxis.ticker = FixedTicker(ticks=x_ticks)
p.yaxis.ticker = FixedTicker(ticks=y_ticks)
for ax in (p.xaxis[0], p.yaxis[0]):
    ax.axis_line_color = None
    ax.major_tick_line_color = None
    ax.minor_tick_line_color = None
    ax.major_tick_out = 0
    ax.major_tick_in = 0
    ax.major_label_text_color = TXT
    ax.major_label_text_font = "DejaVu Sans"
    ax.major_label_text_font_size = "16px"
    ax.axis_label_text_color = TXT
    ax.axis_label_text_font_style = "normal"

p.yaxis.major_label_standoff = 18
p.yaxis.axis_label = "Frame Rate(fps)"
p.yaxis.axis_label_text_font = "DejaVu Sans"
p.yaxis.axis_label_text_font_size = "18px"
p.yaxis.axis_label_standoff = 12

p.xaxis.major_label_standoff = 17
p.xaxis.axis_label = "経過時間(sec)"
p.xaxis.axis_label_text_font = "Noto Sans CJK JP"
p.xaxis.axis_label_text_font_size = "20px"
p.xaxis.axis_label_standoff = 16

p.xgrid.grid_line_color = None
p.ygrid.grid_line_color = "#D9D9D9"
p.ygrid.grid_line_width = 1

# ---------------- legend strip (3 columns x 3 rows) ----------------
p_leg = blank_figure(190)
leg_renderers = []
for src, col, dash in zip(sources, colors, dashes):
    # same series, drawn outside this strip's visible range; used only as legend swatches
    leg_renderers.append(p_leg.line("t", "fps", source=src, line_color=col, line_width=3,
                                    line_dash=dash, line_cap="butt"))

col_x = [230, 485, 738]
for c in range(3):
    items = [LegendItem(label=series_names[r * 3 + c], renderers=[leg_renderers[r * 3 + c]]) for r in range(3)]
    lg = Legend(items=items, location=(col_x[c] - FRAME_LEFT, 39), orientation="vertical",
                glyph_width=50, glyph_height=24, label_height=24, label_standoff=8,
                spacing=33, padding=0, margin=0,
                label_text_font="DejaVu Sans", label_text_font_size="18px", label_text_color=TXT,
                border_line_color=None, background_fill_alpha=0)
    p_leg.add_layout(lg)

layout = column(p_title, p, p_leg, spacing=0,
                styles={"outline": "1px solid #D9D9D9", "outline-offset": "-1px"})
open("out.html", "w").write(file_html(layout, INLINE))
